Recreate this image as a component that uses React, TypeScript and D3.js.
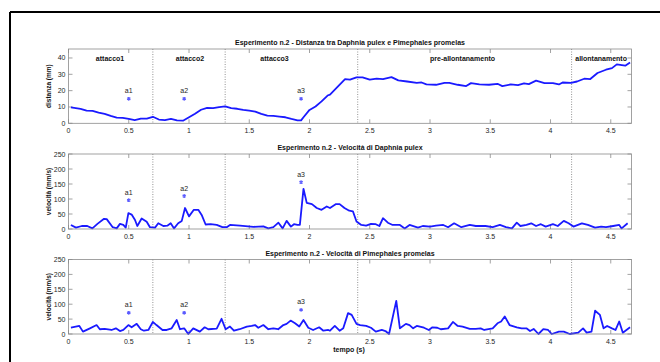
import React from "react";
import * as d3 from "d3";

const xTicks = [0, 0.5, 1, 1.5, 2, 2.5, 3, 3.5, 4, 4.5];
const distTicks = [0, 10, 20, 30, 40];
const velTicks = [0, 50, 100, 150, 200, 250];
const phaseBounds = [0.7, 1.3, 2.4, 4.175];
const phaseNames = ["attacco1", "attacco2", "attacco3", "pre-allontanamento", "allontanamento"];
const phaseAt = [0.345, 1.008, 1.71, 3.27, 4.42];
const attackNames = ["a1", "a2", "a3"];
const attackTimes = [0.5, 0.96, 1.93];
const attackDist = [15, 15, 15];
const attackDaph = [96, 110, 156];
const attackPime = [71, 71, 81];

const distTime = [0.02,0.1,0.15,0.2,0.25,0.3,0.35,0.4,0.45,0.5,0.55,0.6,0.65,0.7,0.75,0.8,0.85,0.9,0.95,1.0,1.05,1.1,1.15,1.2,1.25,1.3,1.35,1.4,1.45,1.5,1.55,1.6,1.65,1.7,1.75,1.8,1.85,1.9,1.93,1.95,2.0,2.05,2.1,2.15,2.17,2.295,2.336,2.39,2.44,2.5,2.557,2.61,2.68,2.737,2.81,2.89,2.93,2.97,3.05,3.12,3.16,3.23,3.3,3.34,3.41,3.49,3.56,3.6,3.67,3.73,3.78,3.82,3.88,3.95,4.02,4.07,4.1,4.17,4.22,4.28,4.33,4.39,4.46,4.51,4.55,4.62,4.66];
const distVal = [9.7,8.9,7.8,7.6,6.6,5.8,4.5,3.5,3.3,2.7,2.0,2.9,2.9,4.0,2.3,2.0,2.7,1.8,1.6,3.7,5.8,8.3,9.5,9.3,9.9,10.3,9.3,8.9,8.2,7.8,7.2,5.8,4.7,4.5,4.1,3.7,2.7,1.8,1.8,3.7,8.2,10.3,13.4,17.0,17.6,27.1,26.7,28.1,28.1,26.7,27.3,27.1,28.3,26.3,25.6,24.8,25.0,23.8,23.6,24.8,24.8,23.6,22.8,24.6,23.8,23.6,24.2,22.8,23.8,23.4,24.4,24.0,26.1,24.6,24.6,23.8,25.0,24.8,25.6,27.3,27.1,30.8,32.8,33.8,36.1,35.3,37.3];

const daphTime = [0.02,0.062,0.11,0.156,0.198,0.24,0.295,0.317,0.367,0.4,0.427,0.455,0.475,0.497,0.524,0.552,0.571,0.607,0.649,0.676,0.718,0.745,0.787,0.82,0.848,0.876,0.91,0.94,0.967,1.0,1.04,1.077,1.105,1.138,1.18,1.23,1.277,1.313,1.34,1.423,1.534,1.617,1.658,1.7,1.742,1.777,1.81,1.846,1.871,1.9,1.92,1.95,1.977,2.02,2.06,2.1,2.143,2.17,2.22,2.25,2.29,2.33,2.36,2.39,2.43,2.47,2.51,2.55,2.58,2.61,2.65,2.69,2.75,2.79,2.83,2.9,2.94,3.0,3.05,3.11,3.15,3.2,3.26,3.33,3.38,3.46,3.52,3.58,3.63,3.68,3.72,3.75,3.8,3.84,3.88,3.92,3.96,4.02,4.06,4.11,4.15,4.19,4.26,4.31,4.37,4.42,4.46,4.52,4.57,4.59,4.64];
const daphVal = [13.5,4.5,10,10,2,17,34,33,6,2,17,13.5,4.5,53,48,30,10,35,24,6,4.5,19,10,11,19,2,19,27,70,42,64,64,47,15,16,13.5,6,6,13.5,11,7,9,2,6,21,2,27,8,16,13.5,13.5,134,87,83,70,64,75,70,83,83,70,61,59,25,13.5,11,17,16,10,36,21,13.5,13.5,2,13.5,4.5,10,8,11,13.5,6,19,6,13.5,10,10,6,13.5,6,2,21,10,13.5,19,10,16,8,16,10,27,19,8,19,13.5,4.5,8,6,10,13.5,2,19];

const pimeTime = [0.02,0.09,0.12,0.178,0.233,0.26,0.3,0.357,0.393,0.427,0.455,0.497,0.524,0.566,0.6,0.626,0.663,0.7,0.73,0.78,0.815,0.856,0.898,0.925,0.96,0.994,1.035,1.09,1.13,1.16,1.23,1.27,1.304,1.34,1.373,1.42,1.48,1.52,1.548,1.575,1.617,1.658,1.7,1.74,1.783,1.81,1.843,1.88,1.915,1.95,1.99,2.03,2.08,2.115,2.156,2.17,2.21,2.25,2.28,2.32,2.35,2.39,2.42,2.47,2.51,2.55,2.6,2.63,2.66,2.72,2.75,2.8,2.83,2.86,2.89,2.95,2.99,3.02,3.06,3.09,3.15,3.19,3.23,3.27,3.33,3.38,3.42,3.45,3.52,3.56,3.59,3.62,3.66,3.72,3.76,3.8,3.83,3.86,3.9,3.94,3.98,4.01,4.07,4.11,4.16,4.23,4.27,4.3,4.34,4.37,4.41,4.44,4.47,4.51,4.54,4.57,4.6,4.66];
const pimeVal = [21,27,8,19,30,16,17,13.5,19,10,13.5,30,22.5,34,16,11,13.5,40.5,30,13.5,13.5,19,47,16,19,0,19,8,22.5,16,18,51,16,25,11,16,25,27,30,21,30,16,19,16,30,34,45,36,25,47,21,13.5,22.5,11,13.5,11,27,11,19,70,64,34,30,27,21,8,13.5,10,0,111,19,34,30,19,27,21,13.5,22.5,21,16,19,40.5,27,25,17,17,19,13.5,19,36,42,59,30,22.5,19,19,10,17,0,16,13.5,0,8,8,0,4.5,19,4.5,8,78,64,19,27,19,13.5,42,4.5,22.5];

const W = 660;
const H = 362;
const X0 = 68.5;
const X1 = 631.5;
const FONT = "'Liberation Sans', Arial, sans-serif";
const AXIS = "#8a8a8a";
const TXT = "#262626";
const BLUE = "#1a1aff";
const starPath = d3.symbol().type(d3.symbolAsterisk).size(10)() || "";

type PanelProps = {
  top: number;
  bottom: number;
  yMax: number;
  yTicks: number[];
  title: string;
  yLabel: string;
  times: number[];
  values: number[];
  markers: number[];
  showPhases?: boolean;
};

function Panel({ top, bottom, yMax, yTicks, title, yLabel, times, values, markers, showPhases }: PanelProps) {
  const x = d3.scaleLinear().domain([0, 4.672]).range([X0, X1]);
  const y = d3.scaleLinear().domain([0, yMax]).range([bottom, top]);
  const line = d3
    .line<number>()
    .x((_, i) => x(times[i]))
    .y((v) => y(v));
  const tl = 4;
  return (
    <g>
      <text x={(X0 + X1) / 2} y={top - 4} textAnchor="middle" fontSize={7} fontWeight="bold" fill="#111" fontFamily={FONT}>
        {title}
      </text>
      <rect x={X0} y={top} width={X1 - X0} height={bottom - top} fill="#fff" stroke="none" />
      {phaseBounds.map((b, i) => (
        <line key={"pb" + i} x1={x(b)} x2={x(b)} y1={top} y2={bottom} stroke="#777" strokeWidth={0.8} strokeDasharray="1,1.5" />
      ))}
      {xTicks.map((t, i) => (
        <g key={"xt" + i}>
          <line x1={x(t)} x2={x(t)} y1={bottom} y2={bottom - tl} stroke={AXIS} strokeWidth={0.8} />
          <line x1={x(t)} x2={x(t)} y1={top} y2={top + tl} stroke={AXIS} strokeWidth={0.8} />
          <text x={x(t)} y={bottom + 9.5} textAnchor="middle" fontSize={7} fill={TXT} fontFamily={FONT}>
            {String(t)}
          </text>
        </g>
      ))}
      {yTicks.map((t, i) => (
        <g key={"yt" + i}>
          <line x1={X0} x2={X0 + tl} y1={y(t)} y2={y(t)} stroke={AXIS} strokeWidth={0.8} />
          <line x1={X1} x2={X1 - tl} y1={y(t)} y2={y(t)} stroke={AXIS} strokeWidth={0.8} />
          <text x={X0 - 3} y={y(t) + 2.5} textAnchor="end" fontSize={7} fill={TXT} fontFamily={FONT}>
            {String(t)}
          </text>
        </g>
      ))}
      <text
        transform={`translate(${X0 - 18},${(top + bottom) / 2}) rotate(-90)`}
        textAnchor="middle"
        fontSize={6.5}
        fontWeight="bold"
        fill="#111"
        fontFamily={FONT}
      >
        {yLabel}
      </text>
      {showPhases &&
        phaseNames.map((n, i) => (
          <text key={"pn" + i} x={x(phaseAt[i])} y={top + 11.5} textAnchor="middle" fontSize={7} fontWeight="bold" fill="#111" fontFamily={FONT}>
            {n}
          </text>
        ))}
      <path d={line(values) || ""} fill="none" stroke={BLUE} strokeWidth={1.8} strokeLinejoin="round" />
      {markers.map((m, i) => (
        <g key={"mk" + i}>
          <path d={starPath} transform={`translate(${x(attackTimes[i])},${y(m)})`} fill="#5a5aff" stroke="#5a5aff" strokeWidth={1.2} />
          <text x={x(attackTimes[i])} y={y(m) - 5.5} textAnchor="middle" fontSize={7} fill={TXT} fontFamily={FONT}>
            {attackNames[i]}
          </text>
        </g>
      ))}
      <rect x={X0} y={top} width={X1 - X0} height={bottom - top} fill="none" stroke={AXIS} strokeWidth={0.8} />
    </g>
  );
}

export default function App() {
  return (
    <svg
      width={W}
      height={H}
      viewBox={`0 0 ${W} ${H}`}
      style={{ position: "absolute", left: 0, top: 0, background: "#fff" }}
    >
      <rect x={0} y={0} width={W} height={H} fill="#fff" />
      <line x1={10} x2={W} y1={12} y2={12} stroke="#000" strokeWidth={2} />
      <line x1={10} x2={10} y1={12} y2={H} stroke="#000" strokeWidth={2} />
      <Panel
        top={49}
        bottom={123.3}
        yMax={45.5}
        yTicks={distTicks}
        title="Esperimento n.2 - Distanza tra Daphnia pulex e Pimephales promelas"
        yLabel="distanza (mm)"
        times={distTime}
        values={distVal}
        markers={attackDist}
        showPhases
      />
      <Panel
        top={154}
        bottom={229}
        yMax={250}
        yTicks={velTicks}
        title="Esperimento n.2 - Velocità di Daphnia pulex"
        yLabel="velocità (mm/s)"
        times={daphTime}
        values={daphVal}
        markers={attackDaph}
      />
      <Panel
        top={259.5}
        bottom={334}
        yMax={250}
        yTicks={velTicks}
        title="Esperimento n.2 - Velocità di Pimephales promelas"
        yLabel="velocità (mm/s)"
        times={pimeTime}
        values={pimeVal}
        markers={attackPime}
      />
      <text x={349} y={351.5} textAnchor="middle" fontSize={7} fontWeight="bold" fill="#111" fontFamily={FONT}>
        tempo (s)
      </text>
    </svg>
  );
}
